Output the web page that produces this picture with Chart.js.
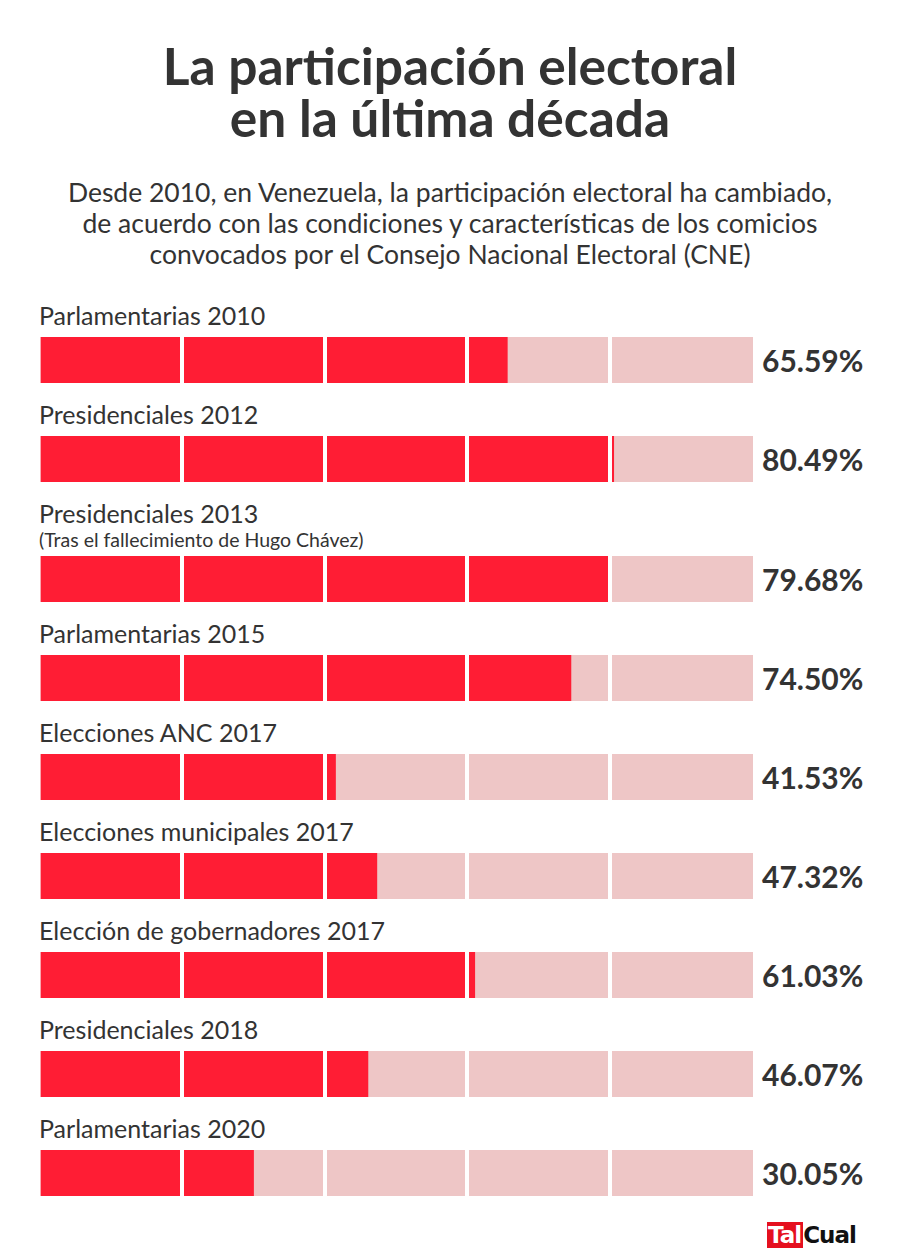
<!DOCTYPE html>
<html>
<head>
<meta charset="utf-8">
<script src="https://cdn.jsdelivr.net/npm/chart.js@4/dist/chart.umd.min.js"></script>
<style>
  body { margin: 0; background: #fff; font-family: Lato, "Noto Sans", sans-serif; color: #333; }
  #page { position: relative; width: 900px; height: 1260px; overflow: hidden; }
  h1 { margin: 0; position: absolute; top: 39px; left: 0; width: 900px; text-align: center;
       font-size: 51.5px; line-height: 52px; font-weight: 700; color: #333; }
  .sub { position: absolute; top: 177px; left: 0; width: 900px; text-align: center;
         font-size: 26.5px; line-height: 31px; color: #333; }
  #rows { position: absolute; top: 302px; left: 0; width: 900px; }
  .row { position: relative; margin-bottom: 18px; }
  .lbl { position: relative; top: -2px; margin-left: 39px; font-size: 25px; line-height: 30px; height: 30px; }
  .note { margin-left: 39px; font-size: 19.5px; line-height: 23px; height: 23px; margin-top: -2px; }
  .bar { position: relative; margin-top: 5px; height: 46px; }
  .box { position: absolute; left: 39px; top: 0; width: 714px; height: 46px; }
  .pct { position: absolute; left: 762px; top: 0; line-height: 46px; font-size: 30px; font-weight: 700; }
  .logo { position: absolute; left: 767px; top: 1222px; height: 26px; font-family: "DejaVu Sans", sans-serif;
          font-weight: 700; font-size: 23px; line-height: 26px; letter-spacing: -1px; }
  .logo .tal { background: #e5101f; color: #fff; padding: 0 2px 0 1px; display: inline-block; }
  .logo .cual { color: #111; }
</style>
</head>
<body>
<div id="page">
  <h1>La participación electoral<br>en la última década</h1>
  <div class="sub">Desde 2010, en Venezuela, la participación electoral ha cambiado,<br>de acuerdo con las condiciones y características de los comicios<br>convocados por el Consejo Nacional Electoral (CNE)</div>
  <div id="rows"></div>
  <div class="logo"><span class="tal">Tal</span><span class="cual">Cual</span></div>
</div>
<script>
const elections = [
  "Parlamentarias 2010",
  "Presidenciales 2012",
  "Presidenciales 2013",
  "Parlamentarias 2015",
  "Elecciones ANC 2017",
  "Elecciones municipales 2017",
  "Elección de gobernadores 2017",
  "Presidenciales 2018",
  "Parlamentarias 2020"
];
const notes = ["", "", "(Tras el fallecimiento de Hugo Chávez)", "", "", "", "", "", ""];
const turnout = [65.59, 80.49, 79.68, 74.50, 41.53, 47.32, 61.03, 46.07, 30.05];
const full = [100, 100, 100, 100, 100, 100, 100, 100, 100];

const RED = '#ff1d34';
const PINK = '#eec6c6';

const rows = document.getElementById('rows');

elections.forEach((name, i) => {
  const row = document.createElement('div');
  row.className = 'row';
  let html = `<div class="lbl">${name}</div>`;
  if (notes[i]) html += `<div class="note">${notes[i]}</div>`;
  html += `<div class="bar"><div class="box"><canvas></canvas></div>
           <div class="pct">${turnout[i].toFixed(2)}%</div></div>`;
  row.innerHTML = html;
  rows.appendChild(row);

  // red share drawn over the pink 100% track, white grid lines on top
  const ctx = row.querySelector('canvas').getContext('2d');
  new Chart(ctx, {
    type: 'bar',
    data: {
      labels: [name],
      datasets: [
        { data: [turnout[i]], backgroundColor: RED, grouped: false, barPercentage: 1, categoryPercentage: 1 },
        { data: [full[i]], backgroundColor: PINK, grouped: false, barPercentage: 1, categoryPercentage: 1 }
      ]
    },
    options: {
      indexAxis: 'y',
      animation: false,
      responsive: true,
      maintainAspectRatio: false,
      layout: { padding: 0 },
      plugins: { legend: { display: false }, tooltip: { enabled: false } },
      scales: {
        x: {
          min: 0, max: 100,
          border: { display: false },
          ticks: { display: false, stepSize: 20 },
          grid: {
            z: 1,
            drawTicks: false,
            lineWidth: 4,
            color: c => (c.tick && c.tick.value > 0 && c.tick.value < 100) ? '#ffffff' : 'rgba(0,0,0,0)'
          }
        },
        y: { display: false }
      }
    }
  });
});
</script>
</body>
</html>
